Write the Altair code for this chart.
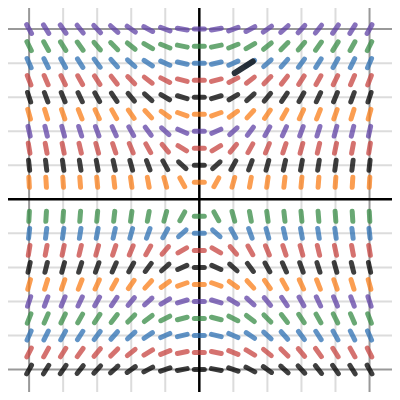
import math
import altair as alt
import pandas as pd

# ---- data ----
x_positions = [-5.0, -4.5, -4.0, -3.5, -3.0, -2.5, -2.0, -1.5, -1.0, -0.5, 0.0,
               0.5, 1.0, 1.5, 2.0, 2.5, 3.0, 3.5, 4.0, 4.5, 5.0]
y_rows = [5.0, 4.5, 4.0, 3.5, 3.0, 2.5, 2.0, 1.5, 1.0, 0.5,
          -0.5, -1.0, -1.5, -2.0, -2.5, -3.0, -3.5, -4.0, -4.5, -5.0]
row_colors = ["#6042a6", "#388c46", "#2d70b3", "#c74440", "#000000",
              "#fa7e19", "#6042a6", "#c74440", "#000000", "#fa7e19",
              "#388c46", "#2d70b3", "#c74440", "#000000", "#fa7e19",
              "#6042a6", "#388c46", "#2d70b3", "#c74440", "#000000"]
slope_k = 1.8          # field dy/dx = k * x / y, k
minor_grid = [-4, -3, -2, -1, 1, 2, 3, 4]
major_grid = [-5, 5]
axis_lines = [0]
highlight_x = [1.04, 1.57]
highlight_y = [3.71, 4.05]

# ---- build table ----
rows = []
for yv, col in zip(y_rows, row_colors):
    for xv in x_positions:
        m = slope_k * xv / yv
        ang = (-math.degrees(math.atan(m))) % 180
        rows.append({"x": xv, "y": yv, "color": col, "angle": ang})
seg_df = pd.DataFrame(rows)

xdom = [-5.62, 5.66]
ydom = [-5.66, 5.62]
xs = alt.Scale(domain=xdom, nice=False, zero=False)
ys = alt.Scale(domain=ydom, nice=False, zero=False)

minor_df = pd.DataFrame({"v": minor_grid})
major_df = pd.DataFrame({"v": major_grid})
axis_df = pd.DataFrame({"v": axis_lines})

def vlines(df, color, w):
    return alt.Chart(df).mark_rule(color=color, strokeWidth=w).encode(
        x=alt.X("v:Q", scale=xs, axis=None))

def hlines(df, color, w):
    return alt.Chart(df).mark_rule(color=color, strokeWidth=w).encode(
        y=alt.Y("v:Q", scale=ys, axis=None))

segments = alt.Chart(seg_df).mark_point(
    shape="M-1,0L1,0", size=100, filled=False, strokeWidth=5,
    strokeCap="round", opacity=0.75
).encode(
    x=alt.X("x:Q", scale=xs, axis=None),
    y=alt.Y("y:Q", scale=ys, axis=None),
    color=alt.Color("color:N", scale=None),
    angle=alt.Angle("angle:Q", scale=None),
)

hl_df = pd.DataFrame({"x": [highlight_x[0]], "x2": [highlight_x[1]],
                      "y": [highlight_y[0]], "y2": [highlight_y[1]]})
highlight = alt.Chart(hl_df).mark_rule(
    color="#1f2730", strokeWidth=6, strokeCap="round", opacity=0.95
).encode(
    x=alt.X("x:Q", scale=xs, axis=None), x2="x2:Q",
    y=alt.Y("y:Q", scale=ys, axis=None), y2="y2:Q",
)

chart = alt.layer(
    vlines(minor_df, "#dcdcdc", 2), hlines(minor_df, "#dcdcdc", 2),
    vlines(major_df, "#999999", 2), hlines(major_df, "#999999", 2),
    vlines(axis_df, "#000000", 2.5), hlines(axis_df, "#000000", 2.5),
    segments, highlight,
).properties(
    width=384, height=384, padding=0, autosize="none", background="white"
).configure_view(stroke=None)

chart.save("out.html", embed_options={"renderer": "svg", "actions": False})
